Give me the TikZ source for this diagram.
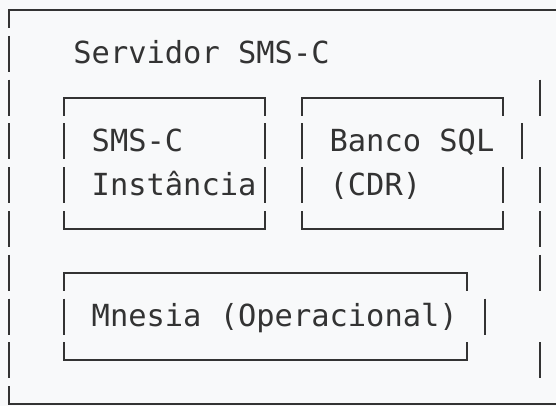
\documentclass[tikz,border=0pt]{standalone}
\usepackage{fontspec}
\newfontfamily\codefont{DejaVu Sans Mono}
\definecolor{bgc}{HTML}{F8F9FA}
\definecolor{ink}{HTML}{333333}
\newcommand{\colx}[1]{(9.15+18.3*(#1))}
\newcommand{\rowy}[1]{(10+43.8*(#1))}
\newcommand{\vseg}[2]{\draw[glyph] ({\colx{#1}},{\rowy{#2}-18}) -- ({\colx{#1}},{\rowy{#2}+18});}
\newcommand{\boxtop}[3]{\draw[glyph] ({\colx{#1}},{\rowy{#3}+18}) -- ({\colx{#1}},{\rowy{#3}}) -- ({\colx{#2}},{\rowy{#3}}) -- ({\colx{#2}},{\rowy{#3}+18});}
\newcommand{\boxbot}[3]{\draw[glyph] ({\colx{#1}},{\rowy{#3}-18}) -- ({\colx{#1}},{\rowy{#3}}) -- ({\colx{#2}},{\rowy{#3}}) -- ({\colx{#2}},{\rowy{#3}-18});}
\tikzset{
  glyph/.style={draw=ink, line width=1.9pt},
  txt/.style={font=\codefont\fontsize{30.4}{43.8}\selectfont, text=ink, inner sep=0pt, anchor=base west}
}
\begin{document}
\begin{tikzpicture}[x=1pt,y=-1pt]
\fill[bgc] (0,0) rectangle (556,406);
\useasboundingbox (0,0) rectangle (556,406);
% outer frame (open on the right, cut by the picture edge)
\draw[glyph] ({\colx{0}},{\rowy{0}+18}) -- ({\colx{0}},{\rowy{0}}) -- (556,{\rowy{0}});
\draw[glyph] ({\colx{0}},{\rowy{9}-18}) -- ({\colx{0}},{\rowy{9}}) -- (556,{\rowy{9}});
\foreach \r in {1,...,8} {\vseg{0}{\r}}
\foreach \r in {2,4,5,6,8} {\vseg{29}{\r}}
% box SMS-C
\boxtop{3}{14}{2}
\boxbot{3}{14}{5}
\foreach \r in {3,4} {\vseg{3}{\r} \vseg{14}{\r}}
% box Banco SQL
\boxtop{16}{27}{2}
\boxbot{16}{27}{5}
\foreach \r in {3,4} {\vseg{16}{\r}}
\vseg{28}{3}
\vseg{27}{4}
% box Mnesia
\boxtop{3}{25}{6}
\boxbot{3}{25}{8}
\vseg{3}{7}
\vseg{26}{7}
% texts
\node[txt] (title) at ({18.3*4},{\rowy{1}+9.8}) {Servidor SMS-C};
\node[txt] (smsc1) at ({18.3*5},{\rowy{3}+9.8}) {SMS-C};
\node[txt] (smsc2) at ({18.3*5},{\rowy{4}+9.8}) {Instância};
\node[txt] (sql1) at ({18.3*18},{\rowy{3}+9.8}) {Banco SQL};
\node[txt] (sql2) at ({18.3*18},{\rowy{4}+9.8}) {(CDR)};
\node[txt] (mnesia) at ({18.3*5},{\rowy{7}+9.8}) {Mnesia (Operacional)};
\end{tikzpicture}
\end{document}
